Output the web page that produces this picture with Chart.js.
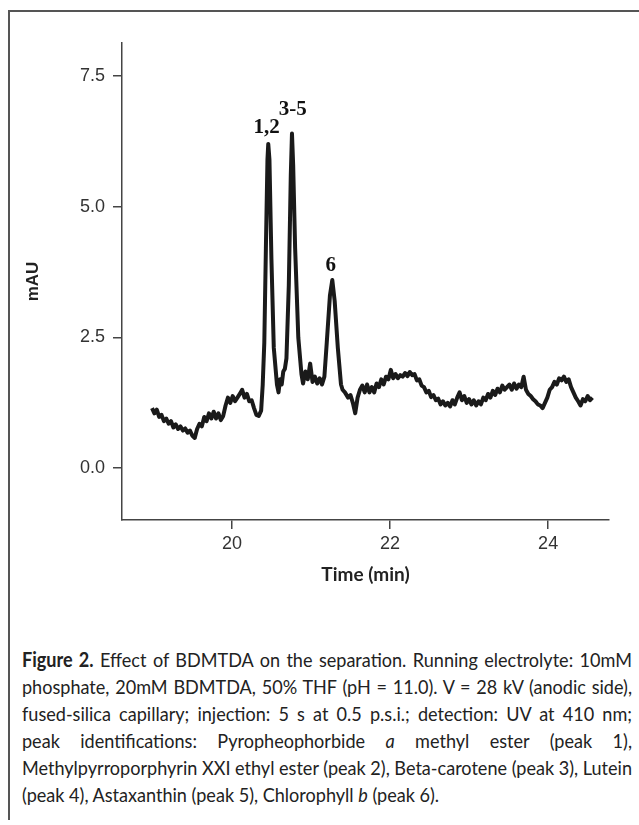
<!DOCTYPE html>
<html>
<head>
<meta charset="utf-8">
<script src="https://cdn.jsdelivr.net/npm/chart.js@4"></script>
<style>
  body { margin: 0; width: 639px; height: 825px; background: #fff; overflow: hidden; position: relative; }
  #frame { position: absolute; left: 8px; top: 10px; width: 640px; height: 808px;
           border-left: 2px solid #555; border-top: 2px solid #555; }
  #chartBox { position: absolute; left: 0; top: 0; width: 639px; height: 600px; }
  #caption { position: absolute; left: 22px; top: 646px; width: 900px;
             font-family: Lato, sans-serif; transform-origin: left top;
             font-size: 20px; line-height: 27px; color: #222; }
  #caption div { text-align: justify; text-align-last: justify; white-space: nowrap; }
  #caption div.last { text-align-last: left; }
</style>
</head>
<body>
<div id="frame"></div>
<div id="chartBox"><canvas id="chroma" width="639" height="600"></canvas></div>
<div id="caption">
  <div><b>Figure 2.</b> Effect of BDMTDA on the separation. Running electrolyte: 10mM</div>
  <div>phosphate, 20mM BDMTDA, 50% THF (pH = 11.0). V = 28 kV (anodic side),</div>
  <div>fused-silica capillary; injection: 5 s at 0.5 p.s.i.; detection: UV at 410 nm;</div>
  <div>peak identifications: Pyropheophorbide <i>a</i> methyl ester (peak 1),</div>
  <div>Methylpyrroporphyrin XXI ethyl ester (peak 2), Beta-carotene (peak 3), Lutein</div>
  <div class="last">(peak 4), Astaxanthin (peak 5), Chlorophyll <i>b</i> (peak 6).</div>
</div>
<script>
// electropherogram trace (time in min, absorbance in mAU)
const timeMin = [
  18.99, 19.02, 19.05, 19.08, 19.11, 19.14, 19.17, 19.20, 19.23, 19.26, 19.29, 19.32,
  19.35, 19.38, 19.41, 19.44, 19.47, 19.50, 19.53, 19.56, 19.59, 19.62, 19.65, 19.68,
  19.71, 19.74, 19.77, 19.80, 19.83, 19.86, 19.89, 19.92, 19.95, 19.98, 20.01, 20.04,
  20.07, 20.10, 20.13, 20.16, 20.19, 20.22, 20.25, 20.28, 20.31, 20.34, 20.37,
  20.39, 20.41, 20.43, 20.45, 20.46, 20.475, 20.50, 20.53, 20.57,
  20.59, 20.61, 20.63, 20.65, 20.67, 20.69,
  20.72, 20.745, 20.76, 20.775, 20.80, 20.84, 20.88,
  20.90, 20.93, 20.96, 20.99, 21.02, 21.05, 21.08, 21.11, 21.14,
  21.17, 21.20, 21.24, 21.27, 21.30, 21.34, 21.38,
  21.40, 21.43, 21.47, 21.50, 21.53, 21.56, 21.59, 21.62, 21.65, 21.68, 21.71, 21.74,
  21.77, 21.80, 21.83, 21.86, 21.89, 21.92, 21.95, 21.98, 22.01, 22.04, 22.07, 22.10,
  22.13, 22.16, 22.19, 22.22, 22.25, 22.28, 22.31, 22.34, 22.37, 22.40, 22.43, 22.46,
  22.49, 22.52, 22.55, 22.58, 22.61, 22.64, 22.67, 22.70, 22.73, 22.76, 22.79, 22.82,
  22.85, 22.88, 22.91, 22.94, 22.97, 23.00, 23.03, 23.06, 23.09, 23.12, 23.15, 23.18,
  23.21, 23.24, 23.27, 23.30, 23.33, 23.36, 23.39, 23.42, 23.45, 23.48, 23.51, 23.54,
  23.57, 23.60, 23.63, 23.66, 23.69, 23.72, 23.75, 23.78, 23.81, 23.84, 23.87, 23.90,
  23.93, 23.96, 23.99, 24.02, 24.05, 24.08, 24.11, 24.14, 24.17, 24.20, 24.23, 24.26,
  24.29, 24.32, 24.35, 24.38, 24.41, 24.44, 24.47, 24.50, 24.53, 24.56
];
const signal = [
  1.15, 1.05, 1.12, 0.98, 1.02, 0.90, 0.95, 0.85, 0.90, 0.78, 0.84, 0.75,
  0.80, 0.72, 0.76, 0.68, 0.72, 0.62, 0.58, 0.75, 0.85, 0.80, 0.98, 0.90,
  1.05, 0.95, 1.08, 0.95, 1.05, 0.92, 1.00, 1.20, 1.35, 1.25, 1.38, 1.28,
  1.35, 1.42, 1.50, 1.35, 1.42, 1.28, 1.30, 1.15, 1.02, 1.00, 1.10,
  1.60, 2.40, 4.20, 5.90, 6.20, 5.90, 4.00, 2.30, 1.60,
  1.45, 1.70, 1.60, 1.85, 1.90, 2.10,
  3.50, 5.60, 6.40, 5.80, 4.20, 2.50, 1.80,
  1.62, 1.85, 1.70, 2.00, 1.65, 1.75, 1.62, 1.72, 1.60,
  1.75, 2.40, 3.30, 3.60, 3.20, 2.30, 1.60,
  1.50, 1.45, 1.35, 1.40, 1.25, 1.05, 1.35, 1.50, 1.58, 1.45, 1.60, 1.45,
  1.55, 1.45, 1.62, 1.55, 1.70, 1.60, 1.75, 1.70, 1.88, 1.72, 1.80, 1.72,
  1.78, 1.75, 1.82, 1.76, 1.84, 1.78, 1.80, 1.68, 1.70, 1.58, 1.55, 1.45,
  1.48, 1.36, 1.40, 1.30, 1.33, 1.22, 1.28, 1.20, 1.25, 1.18, 1.30, 1.22,
  1.35, 1.45, 1.30, 1.38, 1.25, 1.32, 1.22, 1.30, 1.20, 1.28, 1.22, 1.35,
  1.30, 1.42, 1.35, 1.48, 1.40, 1.52, 1.45, 1.58, 1.50, 1.55, 1.60, 1.50,
  1.62, 1.52, 1.60, 1.55, 1.75, 1.50, 1.42, 1.38, 1.32, 1.28, 1.22, 1.20,
  1.15, 1.25, 1.35, 1.50, 1.55, 1.65, 1.60, 1.72, 1.68, 1.75, 1.65, 1.70,
  1.55, 1.45, 1.35, 1.28, 1.20, 1.32, 1.28, 1.38, 1.30, 1.35
];
const yTicks = [0, 2.5, 5, 7.5];
const xTicks = [20, 22, 24];
const peakNames = ['1,2', '3-5', '6'];
const peakNameTime = [20.44, 20.77, 21.25];
const peakNameLevel = [6.52, 6.85, 3.88];

// squeeze the caption to the column width, like the narrow face in the original
const cap = document.getElementById('caption');
const capLines = cap.querySelectorAll('div');
let widest = 0;
capLines.forEach(l => {
  l.style.display = 'inline-block';
  widest = Math.max(widest, l.getBoundingClientRect().width);
  l.style.display = 'block';
});
cap.style.width = widest + 'px';
cap.style.transform = 'scaleX(' + (610 / widest) + ')';

const peakLabelPlugin = {
  id: 'peakLabels',
  afterDatasetsDraw(chart) {
    const ctx = chart.ctx;
    const xs = chart.scales.x, ys = chart.scales.y;
    ctx.save();
    ctx.font = 'bold 21px "Liberation Serif", serif';
    ctx.fillStyle = '#111';
    ctx.textAlign = 'center';
    ctx.textBaseline = 'middle';
    peakNames.forEach((name, i) => {
      ctx.fillText(name, xs.getPixelForValue(peakNameTime[i]), ys.getPixelForValue(peakNameLevel[i]));
    });
    ctx.restore();
  }
};

const ctx = document.getElementById('chroma').getContext('2d');
new Chart(ctx, {
  type: 'line',
  data: {
    datasets: [{
      data: timeMin.map((t, i) => ({ x: t, y: signal[i] })),
      borderColor: '#1a1a1a',
      borderWidth: 4,
      borderJoinStyle: 'round',
      pointRadius: 0,
      tension: 0,
      fill: false
    }]
  },
  options: {
    responsive: false,
    animation: false,
    layout: { padding: { left: 0, top: 43, right: 30, bottom: 14 } },
    plugins: { legend: { display: false }, tooltip: { enabled: false } },
    scales: {
      x: {
        type: 'linear',
        min: 18.61,
        max: 24.77,
        afterBuildTicks: s => { s.ticks = xTicks.map(v => ({ value: v })); },
        afterFit: s => { s.height = 66; },
        grid: { drawOnChartArea: false, tickLength: 9, color: '#444', lineWidth: 1.5 },
        border: { color: '#444', width: 1.5 },
        ticks: { color: '#333', padding: 4, maxRotation: 0,
                 font: { family: '"Liberation Sans", Arial, sans-serif', size: 18 } },
        title: { display: true, text: 'Time (min)', color: '#222', padding: 0,
                 font: { family: 'Lato, sans-serif', weight: 'bold', size: 19 } }
      },
      y: {
        min: -0.99,
        max: 8.13,
        afterBuildTicks: s => { s.ticks = yTicks.map(v => ({ value: v })); },
        afterFit: s => { s.width = 122; },
        grid: { drawOnChartArea: false, tickLength: 9, color: '#444', lineWidth: 1.5 },
        border: { color: '#444', width: 1.5 },
        ticks: { color: '#333', padding: 8, callback: v => v.toFixed(1),
                 font: { family: '"Liberation Sans", Arial, sans-serif', size: 18 } },
        title: { display: true, text: 'mAU', color: '#222', padding: { top: 23, bottom: 0 },
                 font: { family: '"Liberation Sans", Arial, sans-serif', weight: 'bold', size: 17 } }
      }
    }
  },
  plugins: [peakLabelPlugin]
});
</script>
</body>
</html>
